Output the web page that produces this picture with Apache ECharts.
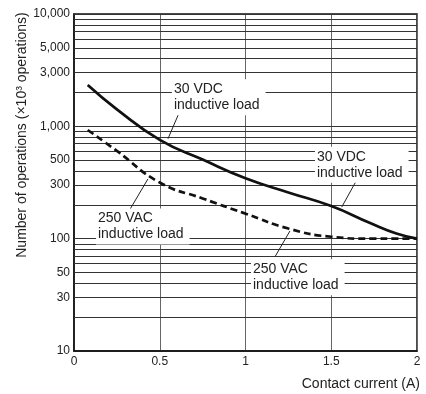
<!DOCTYPE html>
<html>
<head>
<meta charset="utf-8">
<script src="https://cdn.jsdelivr.net/npm/echarts@6/dist/echarts.min.js"></script>
<style>
html, body { margin: 0; padding: 0; background: #fff; }
#chart { width: 426px; height: 394px; }
</style>
</head>
<body>
<div id="chart"></div>
<script>
// contact current (A)
var currents = [0.08, 0.25, 0.5, 0.75, 1.0, 1.25, 1.5, 1.73, 1.88, 2.0]
// number of operations (x10^3)
var vdc30 = [2330, 1416, 758, 506, 345, 258, 195, 137, 111, 100]
var vac250 = [928, 604, 316, 228, 167, 123, 104, 100, 100, 100]

var yLabelValues = [10, 30, 50, 100, 300, 500, 1000, 3000, 5000, 10000]
var yGridValues = [20, 30, 40, 50, 60, 70, 80, 90, 100,
  200, 300, 400, 500, 600, 700, 800, 900, 1000,
  2000, 3000, 4000, 5000, 6000, 7000, 8000, 9000, 10000]

// annotations: text, anchor (left-middle of box), leader line from -> to
var noteText = ['30 VDC\ninductive load', '30 VDC\ninductive load', '250 VAC\ninductive load', '250 VAC\ninductive load']
var noteAt = [[0.571, 1815], [1.405, 455], [0.128, 128], [1.032, 45.3]]
var leaderFrom = [[0.618, 1377], [1.650, 336], [0.327, 183], [1.172, 69]]
var leaderTo = [[0.548, 775], [1.561, 191], [0.431, 340], [1.259, 117]]

var FONT = '"Liberation Sans", Arial, sans-serif'

function withCommas(v) {
  return String(Math.round(v)).replace(/\B(?=(\d{3})+(?!\d))/g, ',')
}

var myChart = echarts.init(document.getElementById('chart'))

var option = {
  animation: false,
  grid: {
    left: 74,
    right: 9,
    top: 14,
    bottom: 43,
    show: true,
    borderColor: '#111',
    borderWidth: 1.5
  },
  xAxis: {
    type: 'value',
    min: 0,
    max: 2,
    interval: 0.5,
    axisLine: { show: true, lineStyle: { color: '#111', width: 1.5 } },
    axisTick: { show: false },
    axisLabel: { fontSize: 12, color: '#222', margin: 5, fontFamily: FONT },
    splitLine: { show: true, lineStyle: { color: '#666', width: 1 } }
  },
  yAxis: {
    type: 'log',
    logBase: 10,
    min: 10,
    max: 10000,
    axisLine: { show: true, lineStyle: { color: '#111', width: 1.5 } },
    axisTick: { show: false },
    splitLine: { show: false },
    axisLabel: {
      customValues: yLabelValues,
      formatter: withCommas,
      fontSize: 12,
      color: '#222',
      margin: 4,
      fontFamily: FONT
    }
  },
  graphic: [
    {
      type: 'text',
      x: 22,
      y: 135,
      rotation: Math.PI / 2,
      style: {
        text: 'Number of operations (×10³ operations)',
        font: '14px ' + FONT,
        fill: '#222',
        align: 'center',
        verticalAlign: 'middle'
      }
    },
    {
      type: 'text',
      right: 6,
      top: 377,
      style: {
        text: 'Contact current (A)',
        font: '14px ' + FONT,
        fill: '#222'
      }
    }
  ],
  series: [
    {
      name: 'grid',
      type: 'scatter',
      data: [],
      silent: true,
      markLine: {
        silent: true,
        z: 1,
        symbol: ['none', 'none'],
        label: { show: false },
        lineStyle: { color: '#333', width: 1, type: 'solid' },
        data: yGridValues.map(function (v) { return { yAxis: v } })
      }
    },
    {
      name: '30 VDC',
      type: 'line',
      z: 3,
      smooth: 0.5,
      symbol: 'none',
      lineStyle: { color: '#111', width: 2.7 },
      data: currents.map(function (x, i) { return [x, vdc30[i]] })
    },
    {
      name: '250 VAC',
      type: 'line',
      z: 3,
      smooth: 0.5,
      symbol: 'none',
      lineStyle: { color: '#111', width: 2.7, type: [7, 4] },
      data: currents.map(function (x, i) { return [x, vac250[i]] })
    },
    {
      name: 'notes',
      type: 'scatter',
      data: [],
      silent: true,
      markLine: {
        silent: true,
        z: 4,
        symbol: ['none', 'none'],
        label: { show: false },
        lineStyle: { color: '#222', width: 1, type: 'solid' },
        data: leaderFrom.map(function (p, i) {
          return [{ coord: p }, { coord: leaderTo[i] }]
        })
      },
      markPoint: {
        silent: true,
        z: 5,
        symbol: 'circle',
        symbolSize: 0,
        itemStyle: { color: 'transparent' },
        label: {
          show: true,
          position: 'right',
          distance: 0,
          fontSize: 14,
          lineHeight: 16,
          color: '#222',
          fontFamily: FONT,
          backgroundColor: '#fff',
          padding: [2, 6, 2, 2],
          formatter: function (p) { return p.name }
        },
        data: noteAt.map(function (p, i) {
          return { name: noteText[i], coord: p }
        })
      }
    }
  ]
}

myChart.setOption(option)
</script>
</body>
</html>
